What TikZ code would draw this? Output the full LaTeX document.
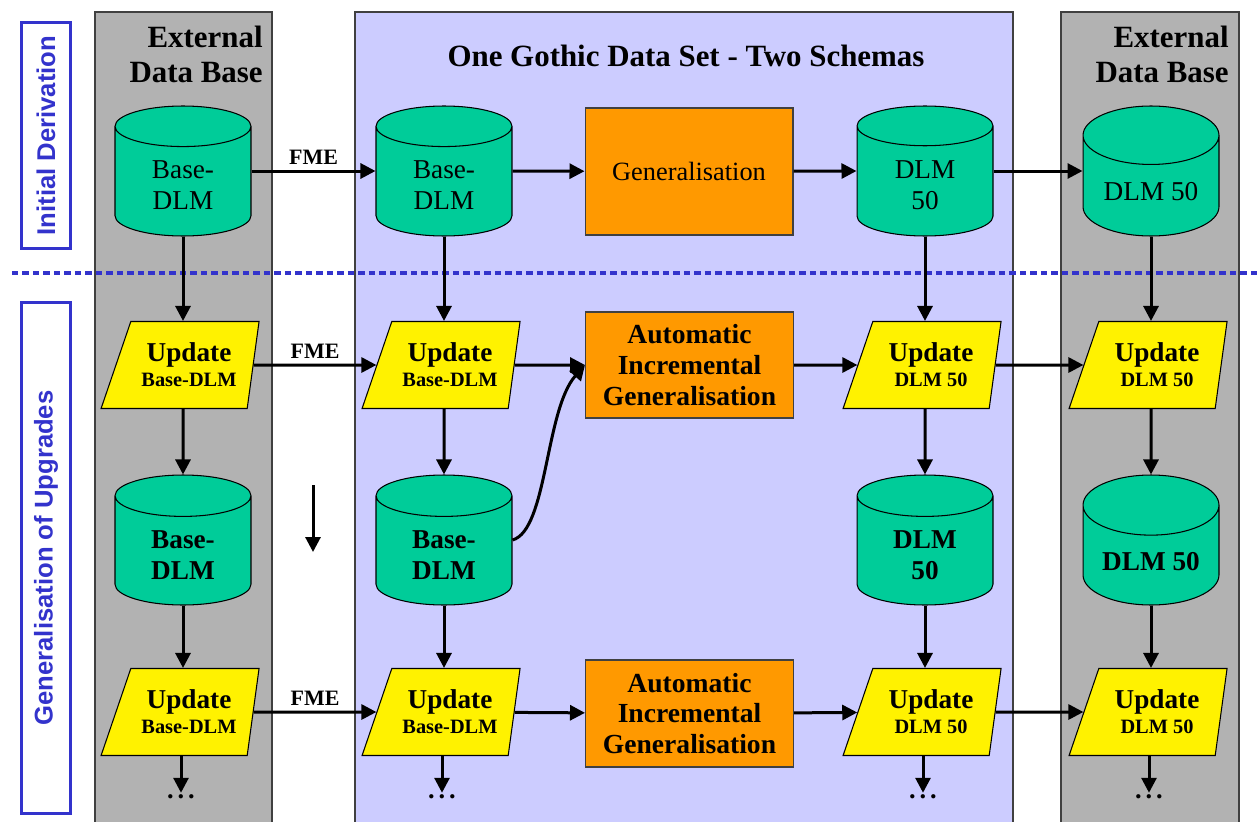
\documentclass[tikz,border=0pt]{standalone}
\usepackage{fontspec}
\setmainfont{Liberation Serif}
\newfontfamily\sidefont{Liberation Sans}
\usetikzlibrary{shapes.geometric,arrows.meta,positioning}

\definecolor{greybase}{HTML}{B2B2B2}
\definecolor{lilacbase}{HTML}{CCCCFF}
\definecolor{dbgreen}{HTML}{00CC99}
\definecolor{genorange}{HTML}{FF9900}
\definecolor{phaseblue}{HTML}{3333CC}

\newcommand{\subline}[1]{{\fontsize{11.6}{13}\selectfont #1}}
\newcommand{\moredots}{.\kern0.15em.\kern0.15em.}

\tikzset{
    panel/.style={draw=black!75, line width=0.6pt},
    paneltitle/.style={
        inner sep=0pt, align=right,
        font=\bfseries\fontsize{17.6}{19.8}\selectfont
    },
    phase/.style={
        draw=phaseblue, line width=0.06cm, fill=white, rotate=90,
        minimum height=1cm, text=phaseblue,
        font=\sidefont\bfseries\fontsize{14.6}{16}\selectfont
    },
    separator/.style={
        draw=phaseblue, line width=0.09cm,
        dash pattern=on 0.13cm off 0.08cm
    },
    database/.style={
        cylinder, shape border rotate=90, aspect=0.55, anchor=shape center,
        draw, fill=dbgreen, line width=0.6pt,
        minimum width=2.72cm, minimum height=2.6cm,
        align=center, font=\fontsize{15.5}{17.6}\selectfont
    },
    boldbase/.style={
        database, font=\bfseries\fontsize{15.5}{17.6}\selectfont
    },
    update/.style={
        trapezium, trapezium left angle=58, trapezium right angle=104,
        trapezium stretches body, draw, fill=yellow, line width=0.6pt,
        minimum width=3.16cm, minimum height=1.74cm, inner sep=1pt,
        align=center, font=\bfseries\fontsize{15.5}{14.2}\selectfont
    },
    process/.style={
        draw=black!75, fill=genorange, line width=0.6pt,
        minimum width=4.16cm, align=center,
        font=\fontsize{15}{17.6}\selectfont
    },
    autoproc/.style={
        process, font=\bfseries\fontsize{15.7}{17.6}\selectfont
    },
    flow/.style={-{Triangle[length=0.3cm,width=0.3cm]}, line width=0.06cm},
    fme/.style={
        above=0.1cm, inner sep=0pt,
        font=\bfseries\fontsize{12.5}{14}\selectfont
    },
    more/.style={font=\bfseries\fontsize{15}{17}\selectfont, inner sep=1pt}
}

\begin{document}
\begin{tikzpicture}[x=0.02cm, y=-0.02cm]
    \useasboundingbox (0,0) rectangle (1260,821);

    % columns
    \draw[panel, fill=greybase] (95,12) rectangle (272,830);
    \draw[panel, fill=lilacbase] (355,12) rectangle (1013,830);
    \draw[panel, fill=greybase] (1061,12) rectangle (1239,830);

    \node[paneltitle, anchor=north east] (exttitleL) at (263,26) {External\\Data Base};
    \node[paneltitle, anchor=base] (gothictitle) at (686,67) {One Gothic Data Set - Two Schemas};
    \node[paneltitle, anchor=north east] (exttitleR) at (1229,26) {External\\Data Base};

    \node[phase, minimum width=4.54cm] (initial) at (46,135.5) {Initial Derivation};
    \node[phase, minimum width=10.24cm] (upgrades) at (46,558) {Generalisation of Upgrades};

    \coordinate (sepL) at (12,273);
    \coordinate (sepR) at (1260,273);
    \draw[separator] (sepL) -- (sepR);

    % initial derivation
    \node[database] (extbase) at (183,171) {Base-\\DLM};
    \node[database] (gotbase) at (444,171) {Base-\\DLM};
    \node[process, minimum height=2.54cm] (gen) at (689,171.5) {Generalisation};
    \node[database] (gotdlm) at (925,171) {DLM\\50};
    \node[database] (extdlm) at (1151,171) {DLM 50};

    % first upgrade
    \node[update] (extupdA) at (189,365) {Update\\\subline{Base-DLM}};
    \node[update] (gotupdA) at (450,365) {Update\\\subline{Base-DLM}};
    \node[autoproc, minimum height=2.12cm] (autoA) at (689.5,365) {Automatic\\Incremental\\Generalisation};
    \node[update] (gotupdlmA) at (931,365) {Update\\\subline{DLM 50}};
    \node[update] (extupdlmA) at (1157,365) {Update\\\subline{DLM 50}};

    \node[boldbase] (extbaseB) at (183,540) {Base-\\DLM};
    \node[boldbase] (gotbaseB) at (444,540) {Base-\\DLM};
    \node[boldbase] (gotdlmB) at (925,540) {DLM\\50};
    \node[boldbase] (extdlmB) at (1151,540) {DLM 50};

    % second upgrade
    \node[update] (extupdC) at (189,712) {Update\\\subline{Base-DLM}};
    \node[update] (gotupdC) at (450,712) {Update\\\subline{Base-DLM}};
    \node[autoproc, minimum height=2.14cm] (autoC) at (689.5,713.5) {Automatic\\Incremental\\Generalisation};
    \node[update] (gotupdlmC) at (931,712) {Update\\\subline{DLM 50}};
    \node[update] (extupdlmC) at (1157,712) {Update\\\subline{DLM 50}};

    \node[more] (moreA) at (181,797) {\moredots};
    \node[more] (moreB) at (442,797) {\moredots};
    \node[more] (moreD) at (923,797) {\moredots};
    \node[more] (moreE) at (1149,797) {\moredots};

    % horizontal flows
    \draw[flow] (extbase.east |- extbase.shape center) -- node[fme] {FME} (gotbase.west |- gotbase.shape center);
    \draw[flow] (gotbase.east |- gotbase.shape center) -- (gen);
    \draw[flow] (gen) -- (gotdlm.west |- gotdlm.shape center);
    \draw[flow] (gotdlm.east |- gotdlm.shape center) -- (extdlm.west |- extdlm.shape center);

    \draw[flow] (extupdA) -- node[fme] {FME} (gotupdA);
    \draw[flow] (gotupdA) -- (autoA);
    \draw[flow] (autoA) -- (gotupdlmA);
    \draw[flow] (gotupdlmA) -- (extupdlmA);
    \draw[flow] (gotbaseB.east |- gotbaseB.shape center) .. controls +(35,-10) and +(-40,45) .. (autoA.west);

    \draw[flow] (extupdC) -- node[fme] {FME} (gotupdC);
    \draw[flow] (gotupdC) -- (autoC);
    \draw[flow] (autoC) -- (gotupdlmC);
    \draw[flow] (gotupdlmC) -- (extupdlmC);

    % vertical flows
    \foreach \col in {ext,got} {
        \draw[flow] (\col base) -- (\col base |- \col updA.north);
        \draw[flow] (\col base |- \col updA.south) -- (\col baseB);
        \draw[flow] (\col baseB) -- (\col baseB |- \col updC.north);
        \draw[flow] (\col dlm) -- (\col dlm |- \col updlmA.north);
        \draw[flow] (\col dlm |- \col updlmA.south) -- (\col dlmB);
        \draw[flow] (\col dlmB) -- (\col dlmB |- \col updlmC.north);
    }
    \draw[flow] (moreA |- extupdC.south) -- (moreA);
    \draw[flow] (moreB |- gotupdC.south) -- (moreB);
    \draw[flow] (moreD |- gotupdlmC.south) -- (moreD);
    \draw[flow] (moreE |- extupdlmC.south) -- (moreE);

    \coordinate (stepTop) at (313,485);
    \coordinate (stepEnd) at (313,552);
    \draw[flow] (stepTop) -- (stepEnd);
\end{tikzpicture}
\end{document}
